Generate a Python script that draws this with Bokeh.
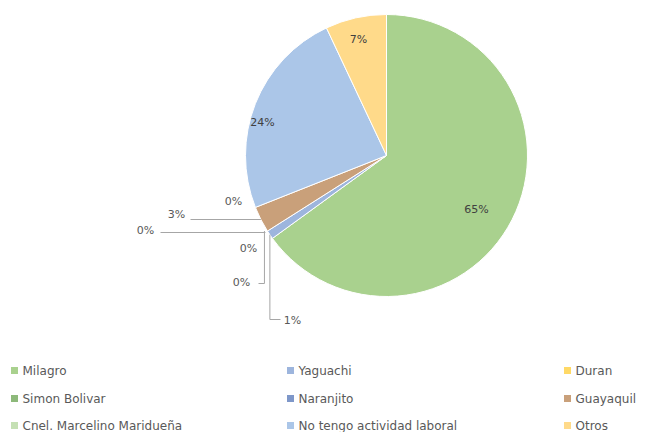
import math
from bokeh.plotting import figure
from bokeh.models import Range1d
from bokeh.core.properties import value
from bokeh.embed import file_html
from bokeh.resources import INLINE

# ---- data ----
categories = ["Milagro", "Yaguachi", "Duran", "Simon Bolivar", "Naranjito",
              "Guayaquil", "Cnel. Marcelino Maridueña",
              "No tengo actividad laboral", "Otros"]
percents = [65, 1, 0, 0, 0, 3, 0, 24, 7]
labels = ["65%", "1%", "0%", "0%", "0%", "3%", "0%", "24%", "7%"]
colors = ["#a9d18e", "#9db5dd", "#ffd966", "#8db97a", "#7e97c9",
          "#c9a07a", "#c5e0b4", "#abc6e8", "#ffda8a"]

# ---- layout (page pixel coords, y downward) ----
W, H = 656, 432
def X(px): return px
def Y(py): return H - py

cx, cy, R = 386, 155, 141

p = figure(width=W, height=H, output_backend="svg", toolbar_location=None,
           x_range=Range1d(0, W), y_range=Range1d(0, H),
           min_border=0, outline_line_color=None)
p.axis.visible = False
p.grid.visible = False
p.background_fill_color = "white"
p.border_fill_color = "white"

total = float(sum(percents))
starts, ends = [], []
cum = 0.0
for v in percents:
    a0 = math.pi / 2 - 2 * math.pi * cum / total
    cum += v
    a1 = math.pi / 2 - 2 * math.pi * cum / total
    starts.append(a0)
    ends.append(a1)

for v, a0, a1, c in zip(percents, starts, ends, colors):
    if v <= 0:
        continue
    p.wedge(x=X(cx), y=Y(cy), radius=R, radius_units="screen",
            start_angle=a0, end_angle=a1, direction="clock",
            fill_color=c, line_color="white", line_width=1)

# label positions (page coords)
label_pos = [(476, 209), (292, 320), (241, 282), (248, 248), (145, 230),
             (176, 214), (233, 201), (262, 122), (358, 39)]
label_colors = ["#404040", "#595959", "#595959", "#595959", "#595959",
                "#595959", "#595959", "#404040", "#404040"]
p.text(x=[X(a) for a, b in label_pos], y=[Y(b) for a, b in label_pos],
       text=labels, text_align="center", text_baseline="middle",
       text_font=value("DejaVu Sans"), text_font_size="11px",
       text_color=label_colors)

# leader lines
def edge(i):
    a = (starts[i] + ends[i]) / 2
    return cx + R * math.cos(a), cy - R * math.sin(a)

leaders = []
# Yaguachi 1%
ex, ey = edge(1)
leaders.append(([ex, ex, 280], [ey, 319, 319]))
# Duran 0%
ex, ey = edge(2)
leaders.append(([ex - 3, ex - 3, 258], [ey, 283, 283]))
# Naranjito 0%
ex, ey = edge(4)
leaders.append(([160, ex - 2], [232, 232]))
# Guayaquil 3%
ex, ey = edge(5)
leaders.append(([190, ex], [219, ey]))
p.multi_line(xs=[[X(v) for v in xs] for xs, ys in leaders],
             ys=[[Y(v) for v in ys] for xs, ys in leaders],
             line_color="#a6a6a6", line_width=1)

# legend (3 columns, row-major)
col_x = [14, 290, 567]
row_y = [370, 398, 425]
lx, ly = [], []
for i in range(len(categories)):
    lx.append(col_x[i % 3])
    ly.append(row_y[i // 3])
p.scatter(x=[X(v) for v in lx], y=[Y(v) for v in ly], marker="square",
          size=7, fill_color=colors, line_color=None)
p.text(x=[X(v) + 8 for v in lx], y=[Y(v) for v in ly], text=categories,
       text_align="left", text_baseline="middle",
       text_font=value("DejaVu Sans"), text_font_size="12px",
       text_color="#595959")

open("out.html", "w").write(file_html(p, INLINE))
